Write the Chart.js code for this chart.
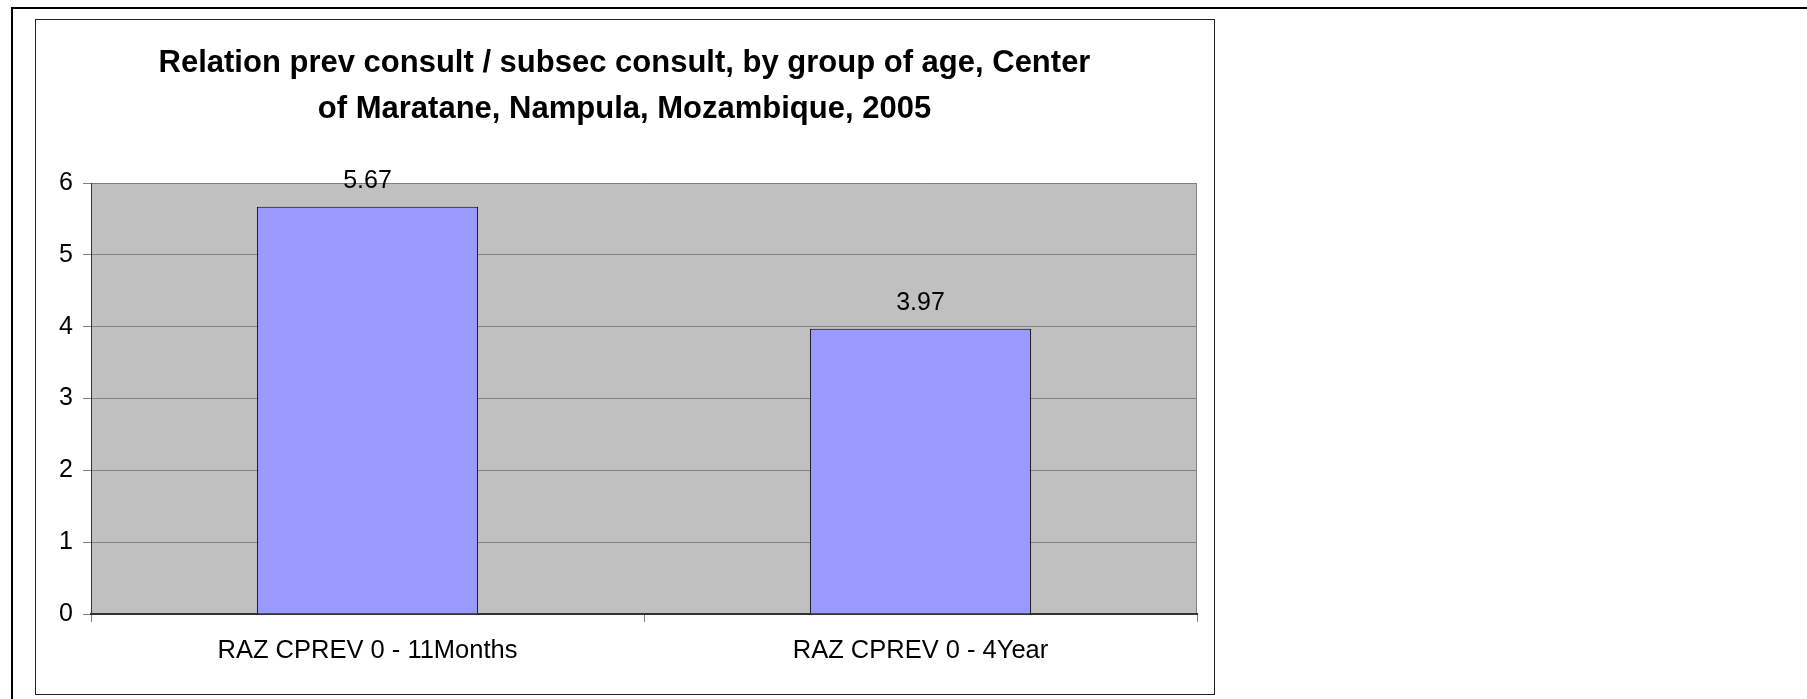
<!DOCTYPE html>
<html>
<head>
<meta charset="utf-8">
<script src="https://cdn.jsdelivr.net/npm/chart.js@4.4.1/dist/chart.umd.min.js"></script>
<style>
    html, body { margin: 0; padding: 0; background: #fff; overflow: hidden; }
    #wrap { width: 1807px; height: 699px; }
</style>
</head>
<body>
<div id="wrap"><canvas id="chart" width="1807" height="699"></canvas></div>
<script>
// data
const categories = ["RAZ CPREV 0 - 11Months", "RAZ CPREV 0 - 4Year"];
const ratios = [5.67, 3.97];
const yMin = 0;
const yMax = 6;
const yStep = 1;
const titleLines = [
    "Relation prev consult / subsec consult, by group of age, Center",
    "of Maratane, Nampula, Mozambique, 2005"
];

const FONT = "'Liberation Sans', Arial, Helvetica, sans-serif";

// frame + grey plot background
const framePlugin = {
    id: "frame",
    beforeDraw(chart) {
        const ctx = chart.ctx;
        const a = chart.chartArea;
        ctx.save();
        ctx.fillStyle = "#fff";
        ctx.fillRect(0, 0, chart.width, chart.height);

        // outer frame (top + left visible)
        ctx.fillStyle = "#000";
        ctx.fillRect(11, 7, chart.width - 11, 2);
        ctx.fillRect(11, 7, 2, chart.height - 7);

        // chart box
        ctx.strokeStyle = "#222";
        ctx.lineWidth = 1;
        ctx.strokeRect(35.5, 19.5, 1179, 675);

        // plot area
        ctx.fillStyle = "#C0C0C0";
        ctx.fillRect(a.left, a.top, a.right - a.left, a.bottom - a.top);
        ctx.strokeStyle = "#808080";
        ctx.beginPath();
        ctx.moveTo(Math.round(a.right) - 0.5, a.top);
        ctx.lineTo(Math.round(a.right) - 0.5, a.bottom);
        ctx.stroke();
        ctx.restore();
    }
};

// value labels above bars
const valueLabels = {
    id: "valueLabels",
    afterDatasetsDraw(chart) {
        const ctx = chart.ctx;
        const meta = chart.getDatasetMeta(0);
        ctx.save();
        ctx.font = "25px " + FONT;
        ctx.fillStyle = "#000";
        ctx.textAlign = "center";
        ctx.textBaseline = "alphabetic";
        meta.data.forEach((bar, i) => {
            ctx.fillText(ratios[i].toFixed(2), bar.x, bar.y - 19);
        });
        ctx.restore();
    }
};

new Chart(document.getElementById("chart"), {
    type: "bar",
    data: {
        labels: categories,
        datasets: [{
            data: ratios,
            backgroundColor: "#9999FF",
            borderColor: "#000",
            borderWidth: 1,
            barPercentage: 0.4,
            categoryPercentage: 1
        }]
    },
    options: {
        responsive: false,
        devicePixelRatio: 1,
        animation: false,
        layout: { padding: { left: 35, right: 593, top: 19, bottom: 5 } },
        plugins: {
            legend: { display: false },
            tooltip: { enabled: false },
            title: {
                display: true,
                text: titleLines,
                color: "#000",
                font: { family: FONT, size: 31, weight: "bold", lineHeight: 46 / 31 },
                padding: { top: 21, bottom: 51 }
            }
        },
        scales: {
            x: {
                grid: {
                    offset: true,
                    drawOnChartArea: false,
                    drawTicks: true,
                    tickLength: 8,
                    color: "#808080"
                },
                border: { display: true, color: "#333", width: 2 },
                ticks: { color: "#000", font: { family: FONT, size: 25.5 }, padding: 14, maxRotation: 0 },
                afterFit(s) { s.height = 80; }
            },
            y: {
                min: yMin,
                max: yMax,
                grid: { color: "#808080", tickLength: 8 },
                border: { display: true, color: "#333", width: 1 },
                ticks: { stepSize: yStep, color: "#000", font: { family: FONT, size: 25 }, padding: 10 },
                afterFit(s) { s.width = 56; }
            },
            yPad: {
                position: "right",
                display: true,
                grid: { display: false },
                border: { display: false },
                ticks: { display: false },
                afterFit(s) { s.width = 17; }
            }
        }
    },
    plugins: [framePlugin, valueLabels]
});
</script>
</body>
</html>
